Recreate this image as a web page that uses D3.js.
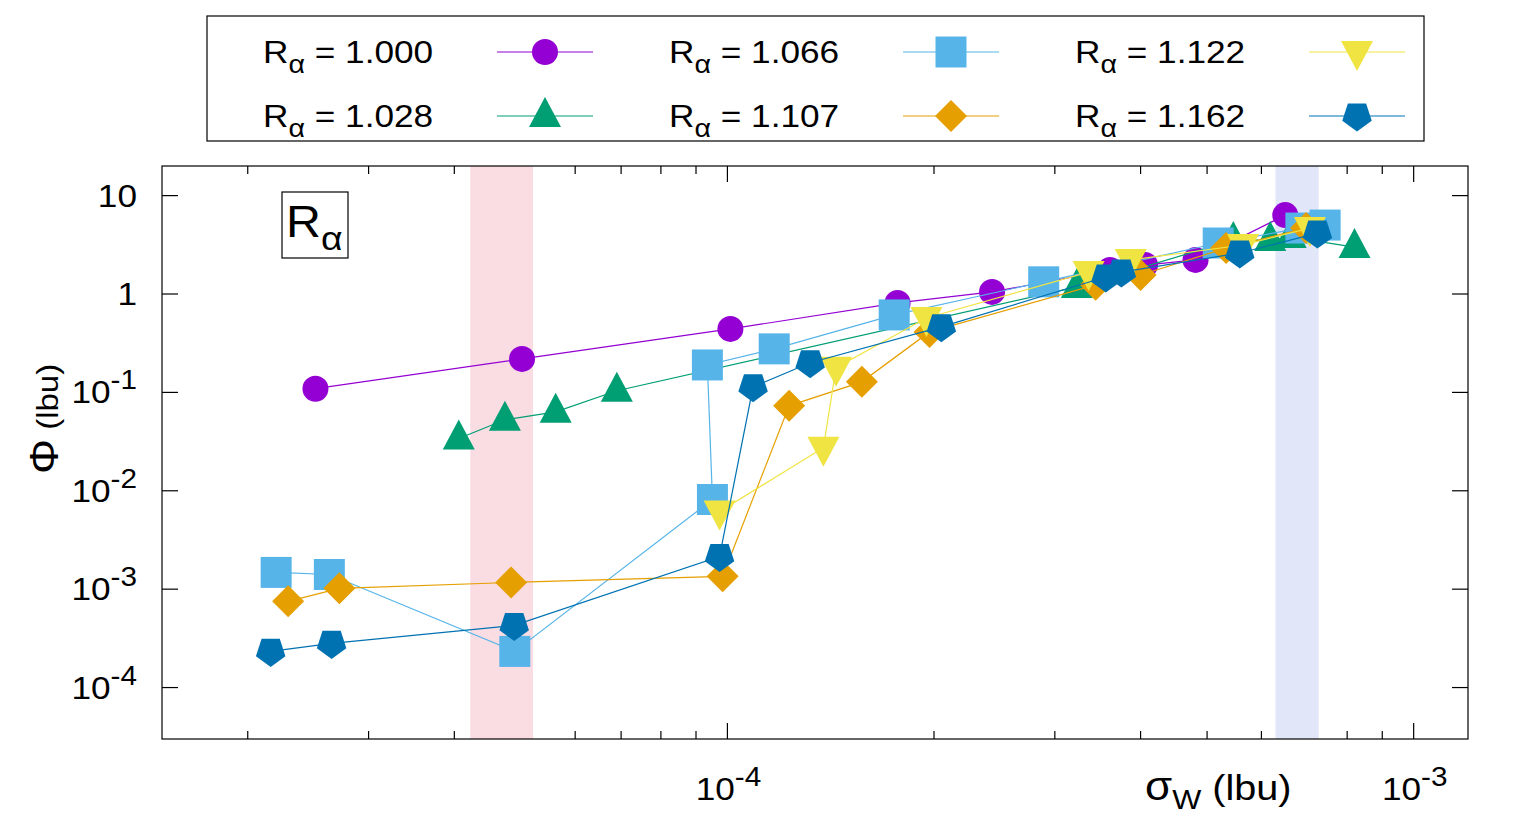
<!DOCTYPE html>
<html>
<head>
<meta charset="utf-8">
<script src="https://cdn.jsdelivr.net/npm/d3@7"></script>
<style>
  body { margin: 0; background: #fff; }
  svg { display: block; font-family: "Liberation Sans", Arial, Helvetica, sans-serif; }
</style>
</head>
<body>
<script>
// series labels and colours (gnuplot default palette)
const seriesNames = ["1.000", "1.028", "1.066", "1.107", "1.122", "1.162"];
const seriesColors = ["#9400d3", "#009e73", "#56b4e9", "#e69f00", "#f0e442", "#0072b2"];
const seriesShapes = ["circle", "triUp", "square", "diamond", "triDown", "pentagon"];

// sigma_W (lbu) / Phi (lbu)
const sigma_1000 = [2.51e-5, 5.02e-5, 1.01e-4, 1.77e-4, 2.43e-4, 3.61e-4, 4.06e-4, 4.81e-4, 6.50e-4];
const phi_1000   = [0.109, 0.219, 0.442, 0.811, 1.05, 1.75, 1.97, 2.22, 6.34];

const sigma_1028 = [4.06e-5, 4.74e-5, 5.62e-5, 6.90e-5, 3.23e-4, 5.46e-4, 6.18e-4, 6.62e-4, 8.20e-4];
const phi_1028   = [0.034, 0.0527, 0.0635, 0.104, 1.18, 3.53, 3.53, 3.79, 3.00];

const sigma_1066 = [2.20e-5, 2.63e-5, 4.90e-5, 9.51e-5, 9.35e-5, 1.17e-4, 1.75e-4, 2.89e-4, 5.19e-4, 6.85e-4, 7.43e-4];
const phi_1066   = [1.48e-3, 1.41e-3, 2.33e-4, 8.15e-3, 0.19, 0.277, 0.613, 1.33, 3.30, 4.68, 5.02];

const sigma_1107 = [2.29e-5, 2.72e-5, 4.84e-5, 9.84e-5, 1.23e-4, 1.57e-4, 1.97e-4, 3.44e-4, 4.00e-4, 5.33e-4, 6.97e-4];
const phi_1107   = [7.52e-4, 1.02e-3, 1.17e-3, 1.35e-3, 0.073, 0.128, 0.412, 1.24, 1.56, 2.93, 4.68];

const sigma_1122 = [9.74e-5, 1.38e-4, 1.44e-4, 1.95e-4, 3.36e-4, 3.87e-4, 5.64e-4, 7.06e-4];
const phi_1122   = [6.15e-3, 0.0274, 0.178, 0.571, 1.67, 2.22, 3.15, 4.68];

const sigma_1162 = [2.16e-5, 2.65e-5, 4.89e-5, 9.74e-5, 1.09e-4, 1.32e-4, 2.05e-4, 3.56e-4, 3.75e-4, 5.58e-4, 7.24e-4];
const phi_1162   = [2.33e-4, 2.81e-4, 4.28e-4, 2.15e-3, 0.114, 0.200, 0.464, 1.49, 1.67, 2.61, 4.16];

const sigmaAll = [sigma_1000, sigma_1028, sigma_1066, sigma_1107, sigma_1122, sigma_1162];
const phiAll = [phi_1000, phi_1028, phi_1066, phi_1107, phi_1122, phi_1162];

// shaded sigma_W bands
const pinkBand = [4.22e-5, 5.21e-5];
const blueBand = [6.29e-4, 7.27e-4];

// ticks
const yTicks = [1e-4, 1e-3, 1e-2, 1e-1, 1, 10];
const yTickExp = ["-4", "-3", "-2", "-1", null, null];
const yTickPlain = ["10", "10", "10", "10", "1", "10"];
const xMajor = [1e-4, 1e-3];
const xMajorExp = ["-4", "-3"];
const xMinor = [2e-5, 3e-5, 4e-5, 5e-5, 6e-5, 7e-5, 8e-5, 9e-5, 2e-4, 3e-4, 4e-4, 5e-4, 6e-4, 7e-4, 8e-4, 9e-4];

const W = 1536, H = 819;
const pL = 162, pR = 1468, pT = 166, pB = 739;
const FS = 32, EXP = 27;
const SX = 1.1; // the original text is a bit wider than Liberation Sans

const svg = d3.select("body").append("svg").attr("width", W).attr("height", H);

const x = d3.scaleLog().domain([1.5e-5, 1.2e-3]).range([pL, pR]);
const y = d3.scaleLog().domain([3e-5, 20]).range([pB, pT]);

// text placed at (tx,ty), stretched horizontally; rot for the y title
function label(tx, ty, anchor, size, rot) {
  return svg.append("g")
    .attr("transform", `translate(${tx},${ty})` + (rot ? ` rotate(${rot})` : "") + ` scale(${SX},1)`)
    .append("text").attr("text-anchor", anchor).attr("font-size", size);
}

function marker(shape) {
  const p = d3.path();
  if (shape === "circle") {
    p.arc(0, 0, 13, 0, 2 * Math.PI);
  } else if (shape === "square") {
    p.rect(-15.5, -15.5, 31, 31);
  } else if (shape === "triUp") {
    p.moveTo(0, -19); p.lineTo(16, 11); p.lineTo(-16, 11); p.closePath();
  } else if (shape === "triDown") {
    p.moveTo(0, 19); p.lineTo(16, -11); p.lineTo(-16, -11); p.closePath();
  } else if (shape === "diamond") {
    p.moveTo(0, -16); p.lineTo(16, 0); p.lineTo(0, 16); p.lineTo(-16, 0); p.closePath();
  } else if (shape === "pentagon") {
    const r = 15.5;
    for (let k = 0; k < 5; k++) {
      const a = Math.PI / 2 + k * 2 * Math.PI / 5;
      if (k === 0) p.moveTo(r * Math.cos(a), r * Math.sin(a));
      else p.lineTo(r * Math.cos(a), r * Math.sin(a));
    }
    p.closePath();
  }
  return p.toString();
}

// ticks (drawn first, bands cover them like in the original)
const tickG = svg.append("g").attr("stroke", "#000").attr("stroke-width", 1.2);
yTicks.forEach(v => {
  tickG.append("line").attr("x1", pL).attr("x2", pL + 16).attr("y1", y(v)).attr("y2", y(v));
  tickG.append("line").attr("x1", pR).attr("x2", pR - 16).attr("y1", y(v)).attr("y2", y(v));
});
xMajor.forEach(v => {
  tickG.append("line").attr("x1", x(v)).attr("x2", x(v)).attr("y1", pB).attr("y2", pB - 16);
  tickG.append("line").attr("x1", x(v)).attr("x2", x(v)).attr("y1", pT).attr("y2", pT + 16);
});
xMinor.forEach(v => {
  tickG.append("line").attr("x1", x(v)).attr("x2", x(v)).attr("y1", pB).attr("y2", pB - 8);
  tickG.append("line").attr("x1", x(v)).attr("x2", x(v)).attr("y1", pT).attr("y2", pT + 8);
});

// bands
svg.append("rect").attr("x", x(pinkBand[0])).attr("width", x(pinkBand[1]) - x(pinkBand[0]))
  .attr("y", pT).attr("height", pB - pT).attr("fill", "#fadce3");
svg.append("rect").attr("x", x(blueBand[0])).attr("width", x(blueBand[1]) - x(blueBand[0]))
  .attr("y", pT).attr("height", pB - pT).attr("fill", "#e1e6f8");

// border
svg.append("rect").attr("x", pL).attr("y", pT).attr("width", pR - pL).attr("height", pB - pT)
  .attr("fill", "none").attr("stroke", "#000").attr("stroke-width", 1.2);

// tick labels
yTicks.forEach((v, i) => {
  const t = label(pL - 25, y(v) + 11, "end", FS);
  t.append("tspan").text(yTickPlain[i]);
  if (yTickExp[i]) t.append("tspan").attr("dy", -14).attr("font-size", EXP).text(yTickExp[i]);
});
xMajor.forEach((v, i) => {
  const t = label(x(v) + 1, 800, "middle", FS);
  t.append("tspan").text("10");
  t.append("tspan").attr("dy", -14).attr("font-size", EXP).text(xMajorExp[i]);
});

// axis titles
const yl = label(58, 419, "middle", 30, -90);
yl.append("tspan").attr("font-size", 40).text("Φ");
yl.append("tspan").text(" (lbu)");

const xl = label(1145, 800, "start", 36);
xl.append("tspan").attr("font-size", 40).text("σ");
xl.append("tspan").attr("dy", 9).attr("font-size", 28).text("W");
xl.append("tspan").attr("dy", -9).text(" (lbu)");

// R_alpha box inside the plot
svg.append("rect").attr("x", 282).attr("y", 192).attr("width", 66).attr("height", 66)
  .attr("fill", "none").attr("stroke", "#000").attr("stroke-width", 1.2);
const rb = label(286, 237, "start", 44);
rb.append("tspan").text("R");
rb.append("tspan").attr("dy", 13).attr("font-size", 34).text("α");

// data
const line = d3.line().x(d => x(d[0])).y(d => y(d[1]));
seriesNames.forEach((name, i) => {
  const pts = sigmaAll[i].map((s, j) => [s, phiAll[i][j]]);
  const g = svg.append("g");
  g.append("path").attr("d", line(pts)).attr("fill", "none")
    .attr("stroke", seriesColors[i]).attr("stroke-width", 1.2);
  g.selectAll("path.pt").data(pts).enter().append("path").attr("class", "pt")
    .attr("d", marker(seriesShapes[i]))
    .attr("transform", d => `translate(${x(d[0])},${y(d[1])})`)
    .attr("fill", seriesColors[i]);
});

// legend
svg.append("rect").attr("x", 207).attr("y", 16).attr("width", 1217).attr("height", 125)
  .attr("fill", "#fff").attr("stroke", "#000").attr("stroke-width", 1.2);
seriesNames.forEach((name, i) => {
  const col = Math.floor(i / 2), row = i % 2;
  const ty = 52 + row * 64;
  const tx = 263 + col * 406;
  const t = label(tx, ty + 11, "start", FS);
  t.append("tspan").text("R");
  t.append("tspan").attr("dy", 10).attr("font-size", 26).text("α");
  t.append("tspan").attr("dy", -10).text(" = " + name);
  const lx = 497 + col * 406;
  svg.append("line").attr("x1", lx).attr("x2", lx + 96).attr("y1", ty).attr("y2", ty)
    .attr("stroke", seriesColors[i]).attr("stroke-width", 1.2);
  svg.append("path").attr("d", marker(seriesShapes[i]))
    .attr("transform", `translate(${lx + 48},${ty})`).attr("fill", seriesColors[i]);
});
</script>
</body>
</html>
